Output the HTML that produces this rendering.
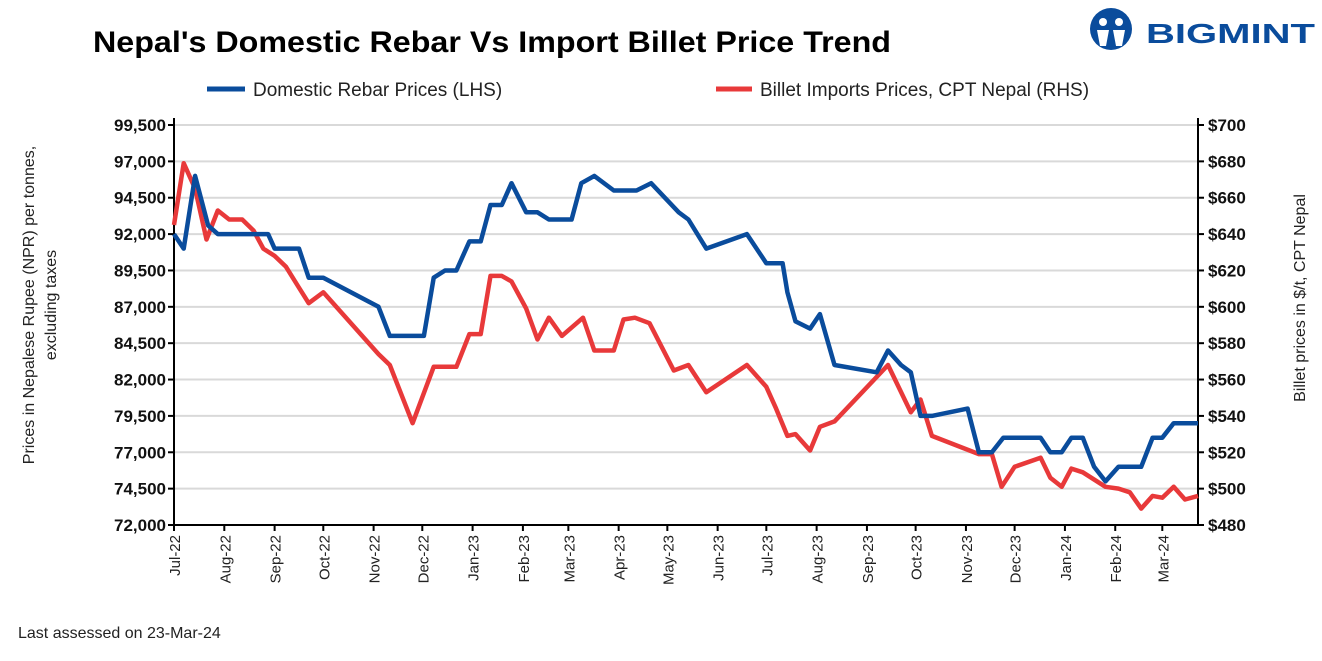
<!DOCTYPE html>
<html><head><meta charset="utf-8">
<style>
body{margin:0;background:#fff;width:1322px;height:661px;overflow:hidden;font-family:"Liberation Sans",sans-serif;}
svg{display:block}
</style></head>
<body>
<svg id="chart" width="1322" height="661" viewBox="0 0 1322 661">
  <text x="93" y="52" font-size="30" font-weight="bold" fill="#000" textLength="798" lengthAdjust="spacingAndGlyphs">Nepal's Domestic Rebar Vs Import Billet Price Trend</text>
  <g>
    <circle cx="1111" cy="29" r="21" fill="#0a4c9c"/>
    <circle cx="1103" cy="22" r="4" fill="#fff"/>
    <circle cx="1119" cy="22" r="4" fill="#fff"/>
    <path d="M1097 30 L1109 30 L1106 46 L1100 46 Z M1113 30 L1125 30 L1122 46 L1116 46 Z" fill="#fff"/>
    <text x="1146" y="43" font-size="28" font-weight="bold" fill="#0a4c9c" textLength="169" lengthAdjust="spacingAndGlyphs">BIGMINT</text>
  </g>
  <g>
    <line x1="207" y1="89" x2="245" y2="89" stroke="#0a4c9c" stroke-width="5"/>
    <text x="253" y="96" font-size="19" fill="#222">Domestic Rebar Prices (LHS)</text>
    <line x1="716" y1="89" x2="752" y2="89" stroke="#e8393a" stroke-width="5"/>
    <text x="760" y="96" font-size="19" fill="#222">Billet Imports Prices, CPT Nepal (RHS)</text>
  </g>
  <g id="grid"></g>
  <g id="axes"></g>
  <g id="series"></g>
  <text transform="translate(34,305) rotate(-90)" font-size="16" text-anchor="middle" fill="#222">Prices in Nepalese Rupee (NPR) per tonnes,</text>
  <text transform="translate(56,305) rotate(-90)" font-size="16" text-anchor="middle" fill="#222">excluding taxes</text>
  <text transform="translate(1305,298) rotate(-90)" font-size="16" text-anchor="middle" fill="#222">Billet prices in $/t, CPT Nepal</text>
  <text x="18" y="638" font-size="16" fill="#222">Last assessed on 23-Mar-24</text>
</svg>
<script>
const monthLabels = ["Jul-22","Aug-22","Sep-22","Oct-22","Nov-22","Dec-22","Jan-23","Feb-23","Mar-23","Apr-23","May-23","Jun-23","Jul-23","Aug-23","Sep-23","Oct-23","Nov-23","Dec-23","Jan-24","Feb-24","Mar-24"];
const monthDates = ["2022-07-01","2022-08-01","2022-09-01","2022-10-01","2022-11-01","2022-12-01","2023-01-01","2023-02-01","2023-03-01","2023-04-01","2023-05-01","2023-06-01","2023-07-01","2023-08-01","2023-09-01","2023-10-01","2023-11-01","2023-12-01","2024-01-01","2024-02-01","2024-03-01"];
const leftTicks = [72000,74500,77000,79500,82000,84500,87000,89500,92000,94500,97000,99500];
const rightTicks = [480,500,520,540,560,580,600,620,640,660,680,700];
const rebarDates = ["2022-07-01","2022-07-07","2022-07-14","2022-07-22","2022-07-28","2022-08-28","2022-09-01","2022-09-16","2022-09-22","2022-10-01","2022-11-04","2022-11-11","2022-12-02","2022-12-08","2022-12-15","2022-12-22","2022-12-30","2023-01-06","2023-01-12","2023-01-19","2023-01-25","2023-02-03","2023-02-10","2023-02-17","2023-03-03","2023-03-09","2023-03-17","2023-03-29","2023-04-12","2023-04-21","2023-05-08","2023-05-14","2023-05-25","2023-06-19","2023-07-01","2023-07-11","2023-07-14","2023-07-19","2023-07-28","2023-08-03","2023-08-12","2023-09-07","2023-09-14","2023-09-22","2023-09-28","2023-10-04","2023-10-11","2023-11-02","2023-11-09","2023-11-17","2023-11-24","2023-12-17","2023-12-23","2023-12-30","2024-01-05","2024-01-12","2024-01-19","2024-01-26","2024-02-03","2024-02-17","2024-02-24","2024-03-01","2024-03-08","2024-03-23"];
const rebarValues = [92000,91000,96000,92600,92000,92000,91000,91000,89000,89000,87000,85000,85000,89000,89500,89500,91500,91500,94000,94000,95500,93500,93500,93000,93000,95500,96000,95000,95000,95500,93500,93000,91000,92000,90000,90000,88000,86000,85500,86500,83000,82500,84000,83000,82500,79500,79500,80000,77000,77000,78000,78000,77000,77000,78000,78000,76000,75000,76000,76000,78000,78000,79000,79000];
const billetDates = ["2022-07-01","2022-07-07","2022-07-14","2022-07-21","2022-07-28","2022-08-04","2022-08-12","2022-08-19","2022-08-25","2022-09-01","2022-09-08","2022-09-15","2022-09-22","2022-10-01","2022-11-04","2022-11-11","2022-11-25","2022-12-08","2022-12-22","2022-12-30","2023-01-06","2023-01-12","2023-01-19","2023-01-25","2023-02-03","2023-02-10","2023-02-17","2023-02-25","2023-03-10","2023-03-17","2023-03-29","2023-04-04","2023-04-11","2023-04-20","2023-05-05","2023-05-14","2023-05-25","2023-06-19","2023-07-01","2023-07-07","2023-07-14","2023-07-19","2023-07-28","2023-08-03","2023-08-12","2023-09-14","2023-09-28","2023-10-04","2023-10-11","2023-11-09","2023-11-17","2023-11-23","2023-12-01","2023-12-17","2023-12-23","2023-12-30","2024-01-05","2024-01-12","2024-01-26","2024-02-03","2024-02-10","2024-02-17","2024-02-24","2024-03-01","2024-03-08","2024-03-15","2024-03-23"];
const billetValues = [645,679,665,637,653,648,648,642,632,628,622,612,602,608,574,568,536,567,567,585,585,617,617,614,599,582,594,584,594,576,576,593,594,591,565,568,553,568,556,544,529,530,521,534,537,568,542,549,529,519,519,501,512,517,506,501,511,509,501,500,498,489,496,495,501,494,496];

const NS = "http://www.w3.org/2000/svg";
const X0 = 174, X1 = 1198, Y0 = 525, Y1 = 125;
const T0 = Date.parse("2022-07-01"), T1 = Date.parse("2024-03-23");
function xScale(d){ return X0 + (Date.parse(d) - T0) / (T1 - T0) * (X1 - X0); }
function yLeft(v){ return Y0 - (v - 72000) / (99500 - 72000) * (Y0 - Y1); }
function yRight(v){ return Y0 - (v - 480) / (700 - 480) * (Y0 - Y1); }
function mk(tag, attrs, parent){ const e = document.createElementNS(NS, tag); for (const k in attrs) e.setAttribute(k, attrs[k]); parent.appendChild(e); return e; }

const grid = document.getElementById("grid"), axes = document.getElementById("axes"), series = document.getElementById("series");
leftTicks.forEach((v, i) => {
  const y = yLeft(v);
  if (i > 0) {
    const g = mk("line", {x1: X0, x2: X1, y1: y, y2: y, stroke: "#d9d9d9", "stroke-width": 2}, grid);
    
    
  }
  mk("line", {x1: X0 - 6, x2: X0, y1: y, y2: y, stroke: "#000", "stroke-width": 2}, axes);
  const t = mk("text", {x: X0 - 8, y: y + 6, "font-size": 17, "font-weight": "bold", "text-anchor": "end", fill: "#111"}, axes);
  t.textContent = v.toLocaleString("en-US");
  
  
});
rightTicks.forEach(v => {
  const y = yRight(v);
  mk("line", {x1: X1, x2: X1 + 6, y1: y, y2: y, stroke: "#000", "stroke-width": 2}, axes);
  const t = mk("text", {x: X1 + 10, y: y + 6, "font-size": 17, "font-weight": "bold", fill: "#111"}, axes);
  t.textContent = "$" + v;
  
  
});
monthDates.forEach((d, i) => {
  const x = xScale(d);
  mk("line", {x1: x, x2: x, y1: Y0, y2: Y0 + 6, stroke: "#000", "stroke-width": 2}, axes);
  const t = mk("text", {transform: `translate(${x + 6},${Y0 + 10}) rotate(-90)`, "font-size": 15, "text-anchor": "end", fill: "#222"}, axes);
  t.textContent = monthLabels[i];
  
  
});
const la = mk("line", {x1: X0, x2: X0, y1: 118, y2: Y0 + 1, stroke: "#000", "stroke-width": 2}, axes);


const ra = mk("line", {x1: X1, x2: X1, y1: 118, y2: Y0 + 1, stroke: "#000", "stroke-width": 2}, axes);


const xa = mk("line", {x1: X0, x2: X1, y1: Y0, y2: Y0, stroke: "#000", "stroke-width": 2}, axes);



const bp = billetDates.map((d, i) => xScale(d).toFixed(1) + "," + yRight(billetValues[i]).toFixed(1)).join(" ");
const bl = mk("polyline", {points: bp, fill: "none", stroke: "#e8393a", "stroke-width": 4.5, "stroke-linejoin": "round"}, series);


const rp = rebarDates.map((d, i) => xScale(d).toFixed(1) + "," + yLeft(rebarValues[i]).toFixed(1)).join(" ");
const rl = mk("polyline", {points: rp, fill: "none", stroke: "#0a4c9c", "stroke-width": 4.5, "stroke-linejoin": "round"}, series);


</script>
</body></html>
